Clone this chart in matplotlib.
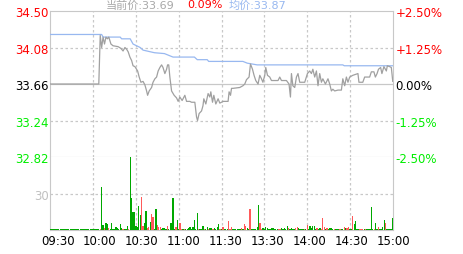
import matplotlib
matplotlib.use("Agg")
import matplotlib.pyplot as plt
from matplotlib.transforms import ScaledTranslation

plt.rcParams["font.family"] = ["DejaVu Sans", "Noto Sans CJK SC"]

# previous close and the price grid levels (left axis)
prev_close = 33.66
price_levels = [32.82, 33.24, 33.66, 34.08, 34.50]
level_colors = ["#00ee00", "#00ee00", "#000000", "#ff0000", "#ff0000"]

time_ticks = [0, 30, 60, 90, 120, 150, 180, 210, 240]
time_labels = ["09:30", "10:00", "10:30", "11:00", "11:30",
               "13:30", "14:00", "14:30", "15:00"]

# intraday price, minute index from 09:30 (lunch break removed)
price_min = [0, 34, 35, 36, 37, 38, 39, 40, 41, 42.5,
             44, 47.5, 49.5, 51, 52.3, 53.5, 54.6, 55.8, 57, 58,
             59.3, 61.2, 62.3, 63.5, 65, 66.3, 67.5, 68.2, 69.3, 71,
             72, 73.3, 74.5, 75.6, 76.8, 78, 79, 80.3, 81.5, 82.2,
             83, 83.8, 85, 86.8, 88.5, 89.6, 90.8, 92.4, 94.3, 95.5,
             97.8, 99, 101.3, 102.5, 103.2, 104.3, 106, 107, 107.6, 109,
             110.6, 111.8, 112.5, 113.7, 114.6, 116, 117.6, 118.8, 121.1, 124.6,
             125.3, 126.3, 127, 128, 132.8, 135, 136.3, 137.5, 139.3, 140.3,
             141.7, 142.8, 144, 145.6, 146.8, 148, 149, 150.3, 151, 152.2,
             153.8, 155, 159.6, 160.8, 162, 165.5, 167.3, 168.3, 169, 170,
             171.3, 172.5, 173.6, 174.8, 178.3, 180.2, 181.8, 183, 184, 185.3,
             186.5, 187.6, 188.8, 190, 191, 192.8, 194.6, 195.8, 197, 198,
             199.3, 201.6, 204, 205, 206.3, 207.5, 208.6, 209.8, 212, 215.6,
             216.3, 219, 220.3, 223.8, 225, 226.8, 227.8, 229, 230, 231.5,
             232.4, 233.8, 235.5, 236.2, 237.8, 239, 240]
price_val = [33.66, 33.66, 34.22, 34.08, 34.20, 34.12, 34.20, 34.18, 34.20, 34.12,
             34.10, 34.09, 34.07, 34.04, 34.08, 34.06, 34.03, 33.97, 33.93, 33.87,
             33.86, 33.81, 33.74, 33.68, 33.69, 33.65, 33.58, 33.53, 33.58, 33.62,
             33.68, 33.72, 33.74, 33.81, 33.85, 33.88, 33.85, 33.78, 33.83, 33.88,
             33.88, 33.74, 33.58, 33.53, 33.50, 33.46, 33.51, 33.47, 33.53, 33.46,
             33.46, 33.45, 33.45, 33.28, 33.24, 33.32, 33.35, 33.41, 33.49, 33.43,
             33.55, 33.51, 33.57, 33.45, 33.53, 33.43, 33.49, 33.44, 33.46, 33.46,
             33.57, 33.53, 33.61, 33.61, 33.62, 33.64, 33.66, 33.71, 33.74, 33.89,
             33.83, 33.76, 33.70, 33.66, 33.76, 33.72, 33.68, 33.76, 33.85, 33.76,
             33.74, 33.70, 33.70, 33.74, 33.70, 33.70, 33.66, 33.51, 33.78, 33.64,
             33.62, 33.74, 33.78, 33.68, 33.68, 33.78, 33.81, 33.78, 33.83, 33.74,
             33.81, 33.64, 33.78, 33.68, 33.72, 33.66, 33.72, 33.66, 33.58, 33.60,
             33.58, 33.59, 33.59, 33.72, 33.64, 33.74, 33.68, 33.74, 33.76, 33.78,
             33.68, 33.68, 33.74, 33.74, 33.80, 33.80, 33.74, 33.78, 33.83, 33.85,
             33.78, 33.86, 33.81, 33.87, 33.86, 33.85, 33.69]

# average price line (steps)
avg_min = [0, 36, 37, 49, 50, 56, 58, 63, 65, 73, 80,
           86, 101, 103, 110, 111, 135, 138, 145, 205, 206, 240]
avg_val = [34.23, 34.23, 34.20, 34.20, 34.18, 34.18, 34.12, 34.08, 34.05, 34.02, 34.01,
           33.97, 33.97, 33.94, 33.94, 33.92, 33.92, 33.90, 33.88, 33.88, 33.87, 33.87]

# per-minute volume, minute 0..240
volume = [0.8, 0.8, 0.8, 0.8, 0.8, 0.8, 0.8, 0.8, 0.8, 0.8,
          0.8, 0.8, 0.8, 0.8, 0.8, 0.8, 0.8, 0.8, 0.8, 0.8,
          0.8, 0.8, 0.8, 0.8, 0.8, 0.8, 0.8, 0.8, 0.8, 0.8,
          0.8, 0.8, 0.8, 0.8, 0.8, 1.0, 35.8, 4.6, 2.0, 6.0,
          5.0, 2.0, 1.4, 6.0, 1.4, 0.8, 2.7, 2.0, 1.0, 5.2,
          2.0, 0.8, 1.0, 1.0, 3.5, 0.8, 60, 26.5, 14.7, 14.7,
          3.8, 2.5, 20, 12.5, 27.3, 3.8, 6.0, 15.8, 2.0, 2.5,
          6.8, 13.4, 10.6, 1.0, 17.5, 4.4, 2.5, 3.0, 1.0, 2.0,
          2.0, 0.8, 3.8, 0.8, 6.0, 6.0, 26.5, 1.0, 3.0, 8.7,
          1.0, 6.0, 0.8, 1.0, 1.0, 1.0, 1.0, 2.0, 2.5, 1.0,
          3.0, 8.5, 1.0, 14.2, 0.8, 1.0, 0.8, 3.5, 0.8, 1.0,
          2.7, 1.0, 2.0, 2.0, 1.0, 2.0, 1.0, 2.5, 5.2, 1.0,
          1.0, 2.5, 0.8, 1.0, 0.8, 8.0, 1.0, 3.0, 0.8, 0.8,
          1.0, 0.8, 1.0, 1.0, 2.0, 1.0, 5.2, 3.8, 2.0, 0.8,
          17.8, 1.0, 1.0, 1.0, 1.0, 2.7, 21, 6.0, 1.0, 2.0,
          0.8, 2.5, 2.0, 1.0, 0.8, 2.0, 2.0, 0.8, 0.8, 0.8,
          1.0, 1.0, 2.0, 1.0, 2.0, 0.8, 3.5, 2.0, 1.0, 2.0,
          1.0, 1.0, 2.0, 2.7, 2.0, 1.0, 1.0, 1.0, 0.8, 0.8,
          4.4, 0.8, 3.8, 2.0, 3.5, 3.5, 0.8, 2.0, 1.0, 2.0,
          1.0, 10, 2.5, 0.8, 2.0, 0.8, 2.0, 2.0, 0.8, 1.0,
          1.0, 1.0, 0.8, 1.0, 1.0, 0.8, 2.5, 2.0, 2.0, 2.7,
          1.0, 0.8, 11.7, 5.2, 7.4, 0.8, 1.0, 1.0, 1.0, 1.0,
          0.8, 1.0, 1.0, 1.0, 0.8, 19, 1.0, 1.0, 5.7, 0.8,
          2.5, 1.0, 0.8, 2.7, 8.5, 6.0, 0.8, 0.8, 0.8, 1.0,
          10]
# r = up minute (red), g = down minute (green), rows of ten minutes
vol_side = "".join([
    "gggggggggg", "gggggggggg", "gggggggggg", "gggggrggrg",
    "grgggggggg", "grgggrgggg", "ggggrrggrr", "grrggrrrgg",
    "ggrgggggrg", "grrgrggggg", "ggggrgggrg", "grggrggggr",
    "grgggrrrgg", "ggggrgrrgg", "rggggggrrg", "gggggggggg",
    "rrgggggrgg", "ggrrggggrg", "rggggggrgg", "rrrgrggggr",
    "gggrggrgrr", "ggrggggrrr", "grgggggrgg", "rggggrgggg",
    "g",
])

price_line_c = "#a0a0a0"
avg_line_c = "#98b8f0"
grid_c = "#c8c8c8"
up_c, down_c = "#ff5a5a", "#00a800"

fig = plt.figure(figsize=(4.63, 2.55), dpi=100)
ax = fig.add_axes([0.1086, 0.3804, 0.7397, 0.5725])
axv = fig.add_axes([0.1086, 0.0929, 0.7397, 0.2875], sharex=ax)

# price panel
ax.set_xlim(0, 240)
ax.set_ylim(price_levels[0], price_levels[-1])
for lv in price_levels[1:-1]:
    ls = "-" if lv == prev_close else (0, (2, 2))
    ax.axhline(lv, color=grid_c, lw=0.9, ls=ls, zorder=1)
for t in time_ticks[1:-1]:
    ax.axvline(t, color=grid_c, lw=0.9, ls=(0, (2, 2)), zorder=1)
    axv.axvline(t, color=grid_c, lw=0.9, ls=(0, (2, 2)), zorder=1)
ax.plot(avg_min, avg_val, color=avg_line_c, lw=0.9, zorder=3)
ax.plot(price_min, price_val, color=price_line_c, lw=0.9, zorder=4)

for s in ax.spines.values():
    s.set_color(grid_c)
ax.set_yticks(price_levels)
ax.set_yticklabels([f"{v:.2f}" for v in price_levels])
for lbl, c in zip(ax.get_yticklabels(), level_colors):
    lbl.set_color(c)
ax.tick_params(axis="y", length=0, pad=1, labelsize=8.5)
ax.tick_params(axis="x", length=0, labelbottom=False)

axr = ax.twinx()
axr.set_ylim(ax.get_ylim())
axr.set_yticks(price_levels)
axr.set_yticklabels([f"{(v - prev_close) / prev_close * 100:+.2f}%".replace("+0.00", "0.00")
                     for v in price_levels])
for lbl, c in zip(axr.get_yticklabels(), level_colors):
    lbl.set_color(c)
axr.tick_params(axis="y", length=0, pad=2, labelsize=8.5)
for s in axr.spines.values():
    s.set_visible(False)

# volume panel
axv.set_ylim(0, 60)
axv.axhline(30, color=grid_c, lw=0.9, ls=(0, (2, 2)), zorder=1)
bar_colors = [up_c if f == "r" else down_c for f in vol_side]
axv.bar(range(len(volume)), volume, width=0.9, color=bar_colors, edgecolor="none",
        lw=0, antialiased=False, zorder=3)
for s in axv.spines.values():
    s.set_color(grid_c)
axv.spines["top"].set_visible(False)
axv.set_yticks([30])
axv.set_yticklabels(["30"], color="#c0c0c0")
axv.tick_params(axis="y", length=0, pad=1, labelsize=8.5)
axv.set_xticks(time_ticks)
axv.set_xticklabels(time_labels)
axv.tick_params(axis="x", length=0, pad=2.5, labelsize=8.5, colors="#000000")
for i, lbl in enumerate(axv.get_xticklabels()):
    dx = (7.5 - 0.83 * i) / 100
    lbl.set_transform(lbl.get_transform() + ScaledTranslation(dx, 0, fig.dpi_scale_trans))

# header line, kept just inside the top edge
head_y = 1 - 0.5 / 255
fig.text(106 / 463, head_y, "当前价:33.69", color="#a8a8a8", fontsize=8, va="top")
fig.text(187 / 463, head_y, "0.09%", color="#ff0000", fontsize=8, va="top")
fig.text(229 / 463, head_y, "均价:33.87", color=avg_line_c, fontsize=8, va="top")

fig.savefig("out.png", dpi=100, facecolor="white")
